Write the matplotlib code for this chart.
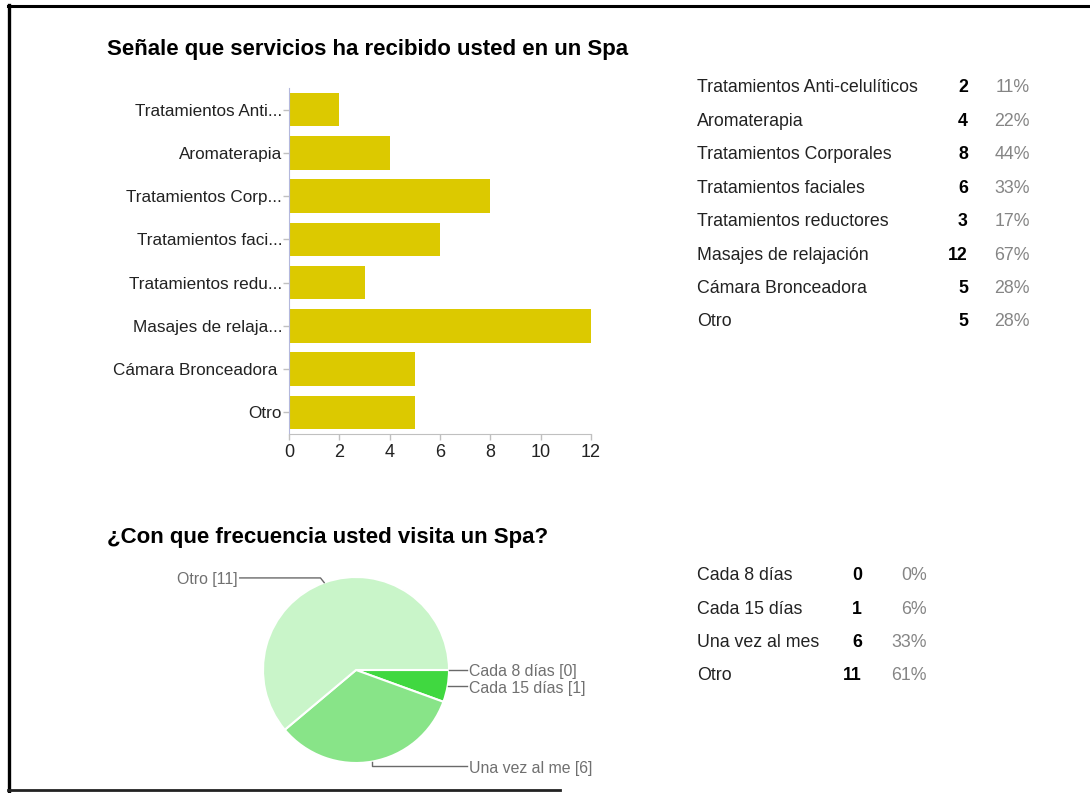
import matplotlib
matplotlib.use("Agg")
import matplotlib.pyplot as plt
from matplotlib.lines import Line2D
import numpy as np

plt.rcParams['font.family'] = ['Liberation Sans', 'DejaVu Sans']

W, H = 1090, 793

# Question 1: services received at a spa
services_full = [
    "Tratamientos Anti-celulíticos",
    "Aromaterapia",
    "Tratamientos Corporales",
    "Tratamientos faciales",
    "Tratamientos reductores",
    "Masajes de relajación",
    "Cámara Bronceadora",
    "Otro",
]
services_short = [
    "Tratamientos Anti...",
    "Aromaterapia",
    "Tratamientos Corp...",
    "Tratamientos faci...",
    "Tratamientos redu...",
    "Masajes de relaja...",
    "Cámara Bronceadora ",
    "Otro",
]
services_count = [2, 4, 8, 6, 3, 12, 5, 5]
services_pct = [11, 22, 44, 33, 17, 67, 28, 28]
bar_ticks = [0, 2, 4, 6, 8, 10, 12]

# Question 2: how often a spa is visited
freq_labels = ["Cada 8 días", "Cada 15 días", "Una vez al mes", "Otro"]
freq_pie_labels = ["Cada 8 días [0]", "Cada 15 días [1]", "Una vez al me [6]", "Otro [11]"]
freq_count = [0, 1, 6, 11]
freq_pct = [0, 6, 33, 61]
freq_colors = ["#2ecc2e", "#40d840", "#88e488", "#c9f5c9"]

TITLE_1 = "Señale que servicios ha recibido usted en un Spa"
TITLE_2 = "¿Con que frecuencia usted visita un Spa?"

TITLE_SIZE = 16
TABLE_SIZE = 12.8


def fx(px):
    return px / W


def fy(py):
    return 1 - py / H


fig = plt.figure(figsize=(W / 100, H / 100), dpi=100)
fig.patch.set_facecolor("white")

# ---- horizontal bar chart ----
ax = fig.add_axes([fx(289), fy(434), fx(591) - fx(289), fy(88) - fy(434)])
ypos = np.arange(len(services_count))
ax.barh(ypos, services_count, height=0.77, color="#dcc900")
ax.set_ylim(len(services_count) - 0.5, -0.5)
ax.set_xlim(bar_ticks[0], bar_ticks[-1])
ax.set_xticks(bar_ticks)
ax.set_yticks(ypos, services_short)
for side in ["top", "right"]:
    ax.spines[side].set_visible(False)
ax.spines["left"].set_color("#b4b8dc")
ax.spines["bottom"].set_color("#c0c0c0")
ax.tick_params(axis="both", colors="#c0c0c0", labelcolor="#222222",
               length=4, width=1)
ax.tick_params(axis="y", labelsize=12.3, pad=1)
ax.tick_params(axis="x", labelsize=13, pad=3)

fig.text(fx(107), fy(50), TITLE_1, fontsize=TITLE_SIZE, fontweight="bold",
         va="center", ha="left", color="black")

# summary table for question 1
for i, (name, cnt, pct) in enumerate(zip(services_full, services_count, services_pct)):
    y = 88 + i * 33.4
    fig.text(fx(697), fy(y), name, fontsize=TABLE_SIZE, color="#222222", va="center")
    fig.text(fx(968), fy(y), str(cnt), fontsize=TABLE_SIZE, fontweight="bold",
             color="black", va="center", ha="right")
    fig.text(fx(1030), fy(y), f"{pct}%", fontsize=TABLE_SIZE, color="#858585",
             va="center", ha="right")

# ---- pie chart ----
R_PX = 93
ax2 = fig.add_axes([fx(356 - R_PX), fy(670 + R_PX), 2 * R_PX / W, 2 * R_PX / H])
ax2.pie(freq_count, colors=freq_colors, startangle=0, counterclock=False,
        radius=1, wedgeprops=dict(edgecolor="white", linewidth=1.5))
ax2.set_xlim(-1, 1)
ax2.set_ylim(-1, 1)
ax2.set_aspect("equal")
ax2.axis("off")

fig.text(fx(107), fy(538), TITLE_2, fontsize=TITLE_SIZE, fontweight="bold",
         va="center", ha="left", color="black")

# leader lines from the middle of each wedge
total = sum(freq_count)
cum = np.concatenate([[0], np.cumsum(freq_count)]) / total
mid = -(cum[:-1] + cum[1:]) / 2 * 2 * np.pi
lc = "#6a6a6a"
lab_kw = dict(fontsize=11.4, color="#707070", va="center", clip_on=False)
x_right = 1.19
dy_lab = -0.02
for i, lab in enumerate(freq_pie_labels):
    ex, ey = np.cos(mid[i]), np.sin(mid[i])
    if ex > 0.5:
        ax2.plot([ex, x_right], [ey, ey], color=lc, lw=1, clip_on=False)
        ax2.text(x_right + 0.03, ey + dy_lab, lab, ha="left", **lab_kw)
    elif ey < 0:
        yl = -1.035
        ax2.plot([ex, ex, x_right], [ey, yl, yl], color=lc, lw=1, clip_on=False)
        ax2.text(x_right + 0.03, yl + dy_lab, lab, ha="left", **lab_kw)
    else:
        yl = 0.99
        xl = -1.25
        ax2.plot([ex, ex - 0.04, xl], [ey, yl, yl], color=lc, lw=1, clip_on=False)
        ax2.text(xl - 0.02, yl + dy_lab, lab, ha="right", **lab_kw)

# summary table for question 2
for i, (name, cnt, pct) in enumerate(zip(freq_labels, freq_count, freq_pct)):
    y = 576 + i * 33.3
    fig.text(fx(697), fy(y), name, fontsize=TABLE_SIZE, color="#222222", va="center")
    fig.text(fx(862), fy(y), str(cnt), fontsize=TABLE_SIZE, fontweight="bold",
             color="black", va="center", ha="right")
    fig.text(fx(927), fy(y), f"{pct}%", fontsize=TABLE_SIZE, color="#858585",
             va="center", ha="right")

# ---- page frame ----
fig.add_artist(Line2D([fx(8), fx(1090)], [fy(5.5), fy(5.5)], color="black", lw=2.2))
fig.add_artist(Line2D([fx(8.5), fx(8.5)], [fy(5), fy(791)], color="black", lw=2.4))
fig.add_artist(Line2D([fx(8), fx(560)], [fy(790), fy(790)], color="#222222", lw=2.0))

fig.savefig("out.png", dpi=100, facecolor="white")
